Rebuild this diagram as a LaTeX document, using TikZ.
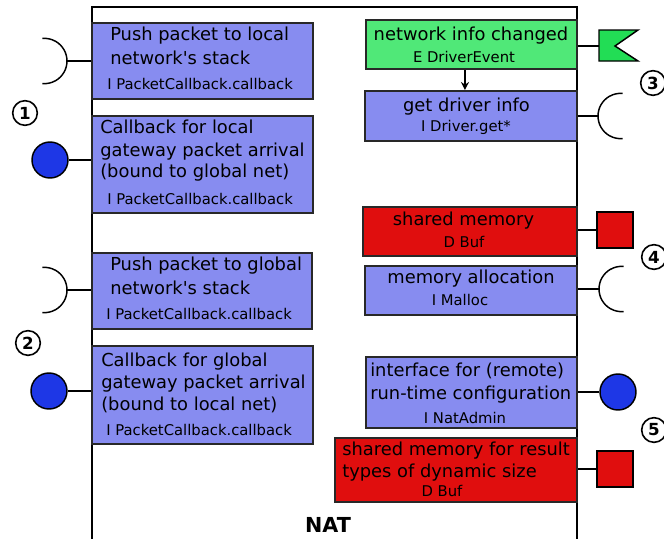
\documentclass[tikz,border=0pt]{standalone}
\usepackage{fontspec}
\setmainfont{DejaVu Sans}[Ligatures=TeXOff]
\usetikzlibrary{fit,arrows.meta}
\definecolor{ifblue}{RGB}{135,140,240}
\definecolor{evgreen}{RGB}{80,232,120}
\definecolor{flaggreen}{RGB}{34,221,85}
\definecolor{datared}{RGB}{224,14,14}
\definecolor{dotblue}{RGB}{30,55,230}
\definecolor{edge}{RGB}{40,40,40}
\tikzset{
  box/.style={draw=edge, line width=1.5pt, inner sep=0pt},
  ibox/.style={box, fill=ifblue},
  ebox/.style={box, fill=evgreen},
  dbox/.style={box, fill=datared},
  main/.style={font=\fontsize{13.4}{16}\selectfont, inner sep=0pt, anchor=base west},
  mainc/.style={main, anchor=base},
  small/.style={font=\fontsize{11.1}{13}\selectfont, inner sep=0pt, anchor=base},
  conn/.style={line width=1.1pt, black},
  provided/.style={circle, draw=black, line width=1.1pt, fill=dotblue, minimum size=27pt, inner sep=0pt},
  datasq/.style={draw=black, line width=1.1pt, fill=datared, minimum size=27pt, inner sep=0pt},
  sockarc/.style={line width=1.1pt, black},
  numbered/.style={circle, draw=black, line width=1.2pt, minimum size=18.5pt, inner sep=0pt, font=\bfseries\fontsize{12.5}{13}\selectfont}
}
\begin{document}
\begin{tikzpicture}[x=0.75pt, y=0.75pt]
\useasboundingbox (0,0) rectangle (664,-539);

% component frame
\draw[line width=1.5pt, black] (92,-539) -- (92,-7) -- (577,-7) -- (577,-539);
\node[font=\bfseries\fontsize{15.5}{18}\selectfont, anchor=base, inner sep=0pt] (nat) at (328,-532.5) {NAT};

% left side: packet callbacks
\node[ibox, fit={(92,-23) (313,-99)}] (b1) {};
\node[main] (b1a) at (110,-40.7) {Push packet to local};
\node[main] (b1b) at (110,-64) {network's stack};
\node[small, anchor=base west] (b1c) at (107,-89.3) {I PacketCallback.callback};

\node[ibox, fit={(92,-116) (313,-213)}] (b2) {};
\node[main] (b2a) at (100,-133.3) {Callback for local};
\node[main] (b2b) at (100,-156) {gateway packet arrival};
\node[main] (b2c) at (100,-177.5) {(bound to global net)};
\node[small, anchor=base west] (b2d) at (107,-204) {I PacketCallback.callback};

\node[ibox, fit={(92,-253) (312,-329)}] (b3) {};
\node[main] (b3a) at (110,-270.7) {Push packet to global};
\node[main] (b3b) at (110,-294) {network's stack};
\node[small, anchor=base west] (b3c) at (106,-319.3) {I PacketCallback.callback};

\node[ibox, fit={(92,-346) (313,-444)}] (b4) {};
\node[main] (b4a) at (101,-366.7) {Callback for global};
\node[main] (b4b) at (101,-388.5) {gateway packet arrival};
\node[main] (b4c) at (101,-410.7) {(bound to local net)};
\node[small, anchor=base west] (b4d) at (106,-435) {I PacketCallback.callback};

% left side: required sockets and provided balls
\coordinate (s1) at (67,-61);
\draw[conn] (b1.west |- s1) -- (s1);
\draw[sockarc] (s1) arc[start angle=0, end angle=95, radius=17pt] (s1) arc[start angle=0, end angle=-95, radius=17pt];
\node[provided] (p1) at (50,-160) {};
\draw[conn] (p1) -- (b2.west |- p1);

\coordinate (s2) at (67,-290);
\draw[conn] (b3.west |- s2) -- (s2);
\draw[sockarc] (s2) arc[start angle=0, end angle=95, radius=17pt] (s2) arc[start angle=0, end angle=-95, radius=17pt];
\node[provided] (p2) at (49,-391) {};
\draw[conn] (p2) -- (b4.west |- p2);

\node[numbered] (n1) at (25,-113) {1};
\node[numbered] (n2) at (28,-343) {2};

% right side: driver event and driver info
\node[ebox, fit={(366,-20) (577,-69)}] (g1) {};
\node[mainc] (g1a) at (471,-40) {network info changed};
\node[small] (g1b) at (464,-62.7) {E DriverEvent};

\node[ibox, fit={(365,-91) (577,-141)}] (d1) {};
\node[mainc] (d1a) at (466.5,-111) {get driver info};
\node[small] (d1b) at (466,-131) {I Driver.get*};

\draw[conn, -{Stealth[length=6pt, width=6pt]}] ([xshift=-4.9pt]g1.south) -- ([xshift=-4.9pt]g1.south |- d1.north);

\coordinate (f1) at (599,-46);
\draw[conn] (g1.east |- f1) -- (f1);
\draw[line width=1.1pt, black, fill=flaggreen, line join=miter] (599,-30) -- (638,-30) -- (615,-46) -- (638,-61) -- (599,-61) -- cycle;

\coordinate (s3) at (598,-116);
\draw[conn] (d1.east |- s3) -- (s3);
\draw[sockarc] (s3) arc[start angle=180, end angle=85, radius=17pt] (s3) arc[start angle=180, end angle=275, radius=17pt];

\node[numbered] (n3) at (653,-83) {3};

% right side: memory
\node[dbox, fit={(363,-207) (577,-256)}] (r1) {};
\node[mainc] (r1a) at (463.5,-225) {shared memory};
\node[small] (r1b) at (464,-247.7) {D Buf};
\node[datasq] (q1) at (615,-230) {};
\draw[conn] (r1.east |- q1) -- (q1);

\node[ibox, fit={(365,-266) (577,-315)}] (m1) {};
\node[mainc] (m1a) at (471,-283.3) {memory allocation};
\node[small] (m1b) at (460,-305) {I Malloc};

\coordinate (s4) at (599,-289);
\draw[conn] (m1.east |- s4) -- (s4);
\draw[sockarc] (s4) arc[start angle=180, end angle=85, radius=17pt] (s4) arc[start angle=180, end angle=275, radius=17pt];

\node[numbered] (n4) at (654,-257) {4};

% right side: administration and result buffer
\node[ibox, fit={(366,-357) (577,-428)}] (a1) {};
\node[main] (a1a) at (370,-376.7) {interface for (remote)};
\node[main] (a1b) at (370,-399.3) {run-time configuration};
\node[small] (a1c) at (465,-423.3) {I NatAdmin};
\node[provided] (p3) at (618,-392) {};
\draw[conn] (a1.east |- p3) -- (p3);

\node[dbox, fit={(335,-438) (577,-502)}] (r2) {};
\node[main] (r2a) at (342,-455) {shared memory for result};
\node[main] (r2b) at (342,-477.3) {types of dynamic size};
\node[small] (r2c) at (442,-496) {D Buf};
\node[datasq] (q2) at (615,-469) {};
\draw[conn] (r2.east |- q2) -- (q2);

\node[numbered] (n5) at (654,-430) {5};
\end{tikzpicture}
\end{document}
